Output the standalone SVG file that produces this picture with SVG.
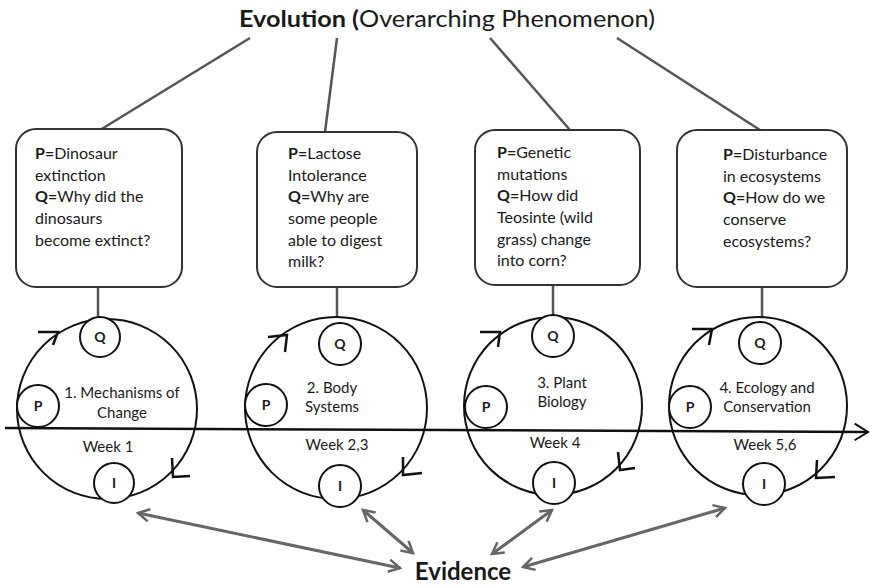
<svg xmlns="http://www.w3.org/2000/svg" width="870" height="585" viewBox="0 0 870 585">
<defs>
<style>
.t{font-family:Lato,"Open Sans","Liberation Sans",sans-serif;fill:#1a1a1a}
.box{fill:#fff;stroke:#333;stroke-width:2}
.big{fill:none;stroke:#111;stroke-width:2}
.sm{fill:#fff;stroke:#111;stroke-width:2}
.ch{fill:none;stroke:#111;stroke-width:2.5}
.gl{stroke:#555;stroke-width:2.5;fill:none}
.ev{stroke:#666;stroke-width:3;fill:none}
.bt{font-size:16px}
.ct{font-size:15px;text-anchor:middle}
.lt{font-size:14px;font-weight:bold;text-anchor:middle}
</style>
<marker id="ah" viewBox="0 0 12 12" refX="10" refY="6" markerWidth="5" markerHeight="5" orient="auto-start-reverse" markerUnits="strokeWidth">
<path d="M1,1 L10,6 L1,11" fill="none" stroke="#666" stroke-width="2"/>
</marker>
<marker id="ax" viewBox="0 0 12 12" refX="11" refY="6" markerWidth="8" markerHeight="8" orient="auto" markerUnits="strokeWidth">
<path d="M3,1 L11,6 L3,11" fill="none" stroke="#111" stroke-width="1.2"/>
</marker>
</defs>
<rect width="870" height="585" fill="#fff"/>

<g id="title">
<text class="t" x="239" y="27" font-size="23" textLength="416" lengthAdjust="spacingAndGlyphs"><tspan font-weight="bold">Evolution (</tspan>Overarching Phenomenon)</text>
</g>

<g id="connectors">
<line class="gl" x1="250" y1="38" x2="100" y2="130"/>
<line class="gl" x1="337" y1="38" x2="325" y2="132"/>
<line class="gl" x1="490" y1="38" x2="570" y2="130"/>
<line class="gl" x1="617" y1="38" x2="760" y2="130"/>
<line class="gl" x1="98" y1="287" x2="98" y2="319"/>
<line class="gl" x1="337" y1="287" x2="337" y2="317"/>
<line class="gl" x1="553" y1="285" x2="553" y2="317"/>
<line class="gl" x1="762" y1="287" x2="762" y2="317"/>
<line x1="5" y1="428" x2="868" y2="432" stroke="#111" stroke-width="2.5" marker-end="url(#ax)"/>
<line class="ev" x1="138" y1="513" x2="400" y2="568" marker-start="url(#ah)" marker-end="url(#ah)"/>
<line class="ev" x1="363" y1="510" x2="413" y2="553" marker-start="url(#ah)" marker-end="url(#ah)"/>
<line class="ev" x1="552" y1="510" x2="492" y2="554" marker-start="url(#ah)" marker-end="url(#ah)"/>
<line class="ev" x1="725" y1="508" x2="523" y2="567" marker-start="url(#ah)" marker-end="url(#ah)"/>
</g>

<g id="box1">
<rect class="box" x="16" y="129" width="166" height="158" rx="20"/>
<text class="t bt" x="35" y="159"><tspan font-weight="bold">P=</tspan>Dinosaur</text>
<text class="t bt" x="35" y="181">extinction</text>
<text class="t bt" x="35" y="202"><tspan font-weight="bold">Q=</tspan>Why did the</text>
<text class="t bt" x="35" y="224">dinosaurs</text>
<text class="t bt" x="35" y="246">become extinct?</text>
</g>
<g id="box2">
<rect class="box" x="257" y="132" width="160" height="155" rx="20"/>
<text class="t bt" x="288" y="159"><tspan font-weight="bold">P=</tspan>Lactose</text>
<text class="t bt" x="288" y="181">Intolerance</text>
<text class="t bt" x="288" y="202"><tspan font-weight="bold">Q=</tspan>Why are</text>
<text class="t bt" x="288" y="224">some people</text>
<text class="t bt" x="288" y="246">able to digest</text>
<text class="t bt" x="288" y="267">milk?</text>
</g>
<g id="box3">
<rect class="box" x="475" y="130" width="165" height="155" rx="20"/>
<text class="t bt" x="497" y="158"><tspan font-weight="bold">P=</tspan>Genetic</text>
<text class="t bt" x="497" y="180">mutations</text>
<text class="t bt" x="497" y="201"><tspan font-weight="bold">Q=</tspan>How did</text>
<text class="t bt" x="497" y="223">Teosinte (wild</text>
<text class="t bt" x="497" y="245">grass) change</text>
<text class="t bt" x="497" y="266">into corn?</text>
</g>
<g id="box4">
<rect class="box" x="677" y="130" width="170" height="157" rx="20"/>
<text class="t bt" x="723" y="160"><tspan font-weight="bold">P=</tspan>Disturbance</text>
<text class="t bt" x="723" y="182">in ecosystems</text>
<text class="t bt" x="723" y="203"><tspan font-weight="bold">Q=</tspan>How do we</text>
<text class="t bt" x="723" y="225">conserve</text>
<text class="t bt" x="723" y="247">ecosystems?</text>
</g>

<g id="cycle1">
<circle class="big" cx="107" cy="409" r="90"/>
<path class="ch" d="M38,332 L58,332 L53,345"/>
<path class="ch" d="M172,458 L173,477 L190,476"/>
<circle class="sm" cx="100" cy="337" r="20"/><text class="t lt" x="100" y="342">Q</text>
<circle class="sm" cx="38" cy="406" r="21"/><text class="t lt" x="38" y="411">P</text>
<circle class="sm" cx="114" cy="483" r="20"/><text class="t lt" x="114" y="488">I</text>
<text class="t ct" x="122" y="398">1. Mechanisms of</text>
<text class="t ct" x="122" y="418">Change</text>
<text class="t ct" x="108" y="452">Week 1</text>
</g>
<g id="cycle2">
<circle class="big" cx="336" cy="408" r="91"/>
<path class="ch" d="M268,337 L287,335 L285,352"/>
<path class="ch" d="M403,457 L403,475 L422,473"/>
<circle class="sm" cx="340" cy="344" r="21"/><text class="t lt" x="340" y="349">Q</text>
<circle class="sm" cx="266" cy="405" r="21"/><text class="t lt" x="266" y="410">P</text>
<circle class="sm" cx="340" cy="486" r="21"/><text class="t lt" x="340" y="491">I</text>
<text class="t ct" x="332" y="393">2. Body</text>
<text class="t ct" x="332" y="412">Systems</text>
<text class="t ct" x="337" y="450">Week 2,3</text>
</g>
<g id="cycle3">
<circle class="big" cx="553" cy="406" r="89"/>
<path class="ch" d="M480,332 L500,332 L498,347"/>
<path class="ch" d="M618,452 L620,470 L635,468"/>
<circle class="sm" cx="553" cy="336" r="21"/><text class="t lt" x="553" y="341">Q</text>
<circle class="sm" cx="486" cy="407" r="21"/><text class="t lt" x="486" y="412">P</text>
<circle class="sm" cx="554" cy="483" r="21"/><text class="t lt" x="554" y="488">I</text>
<text class="t ct" x="562" y="388">3. Plant</text>
<text class="t ct" x="562" y="407">Biology</text>
<text class="t ct" x="555" y="448">Week 4</text>
</g>
<g id="cycle4">
<circle class="big" cx="758" cy="406" r="89"/>
<path class="ch" d="M692,329 L712,329 L709,345"/>
<path class="ch" d="M817,460 L816,478 L835,477"/>
<circle class="sm" cx="760" cy="343" r="21"/><text class="t lt" x="760" y="348">Q</text>
<circle class="sm" cx="690" cy="407" r="21"/><text class="t lt" x="690" y="412">P</text>
<circle class="sm" cx="764" cy="484" r="21"/><text class="t lt" x="764" y="489">I</text>
<text class="t ct" x="767" y="393">4. Ecology and</text>
<text class="t ct" x="767" y="412">Conservation</text>
<text class="t ct" x="765" y="450">Week 5,6</text>
</g>

<g id="evidence">
<text class="t" x="463" y="580" font-size="24" font-weight="bold" text-anchor="middle">Evidence</text>
</g>
</svg>
